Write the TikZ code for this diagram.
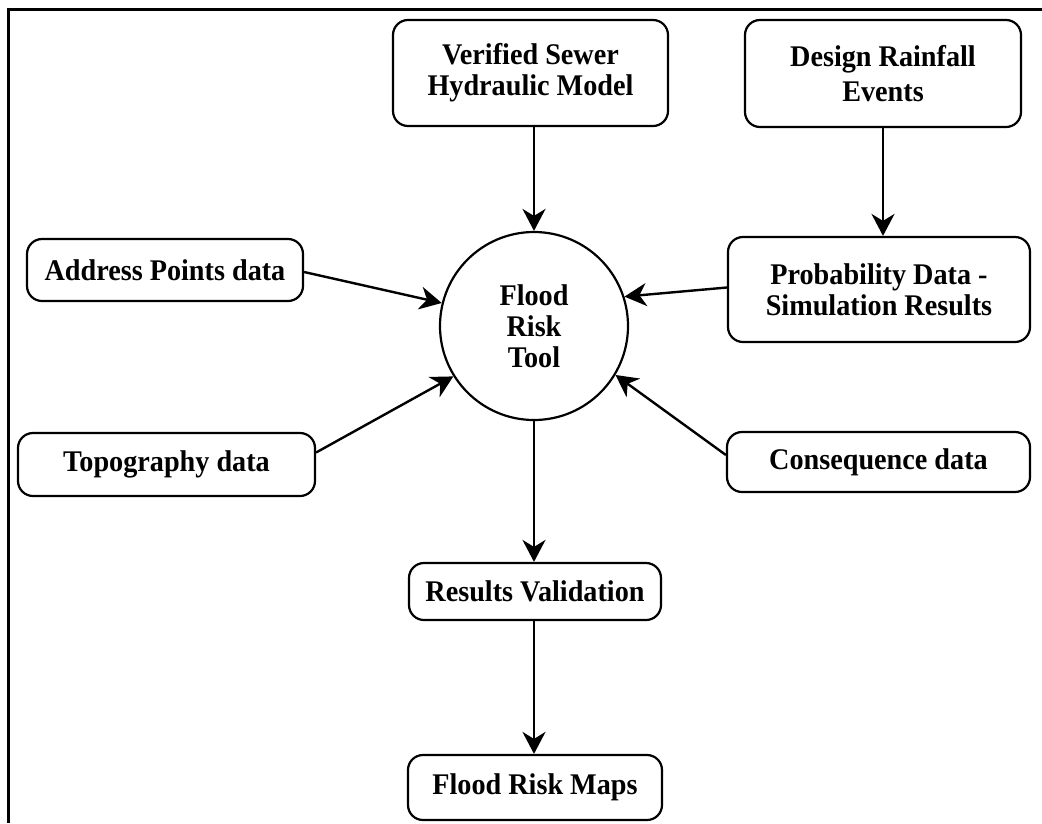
\documentclass[tikz,border=0pt]{standalone}
\usepackage{fontspec}
\setmainfont{Liberation Serif}[FakeStretch=0.94]
\usetikzlibrary{arrows.meta}
\tikzset{
  box/.style={draw, line width=2.2pt, rounded corners=15pt, align=center, inner sep=0pt,
    font=\bfseries\fontsize{30}{31}\selectfont},
  arr/.style={line width=2.4pt, -{Stealth[length=22pt, width=23pt, inset=7pt]}},
  frame/.style={line width=3pt}
}
\begin{document}
\begin{tikzpicture}[x=1pt, y=-1pt]
\useasboundingbox (0,0) rectangle (1042,823);
\draw[frame] (1042,9.5) -- (8.7,9.5) -- (8.7,823);
\node[box, minimum width=275pt, minimum height=106pt] (ver) at (530.5,73) {Verified Sewer\\Hydraulic Model};
\node[box, minimum width=276pt, minimum height=107pt, font=\bfseries\fontsize{30}{35}\selectfont] (des) at (883,73.5) {Design Rainfall\\Events};
\node[box, minimum width=276pt, minimum height=62pt] (addr) at (165,270) {Address Points data};
\node[box, minimum width=302pt, minimum height=105pt] (prob) at (879,289.5) {Probability Data -\\Simulation Results};
\node[box, minimum width=297pt, minimum height=63pt] (topo) at (166.5,464.5) {Topography data};
\node[box, minimum width=303pt, minimum height=60pt] (cons) at (878.5,462) {Consequence data};
\node[box, minimum width=252pt, minimum height=57pt] (resv) at (535,591.5) {Results Validation};
\node[box, minimum width=254pt, minimum height=65pt] (maps) at (535,787.5) {Flood Risk Maps};
\node[box, circle, rounded corners=0pt, minimum size=188pt] (circ) at (534,326) {Flood\\Risk\\Tool};
\draw[arr] (ver.south -| circ.north) -- (circ.north);
\draw[arr] (des.south -| 883,0) -- (prob.north -| 883,0);
\draw[arr] ([yshift=-2pt]addr.east) -- (circ.166);
\draw[arr] ([yshift=2pt]prob.west) -- (circ.18);
\draw[arr] ([yshift=12pt]topo.east) -- (circ.212);
\draw[arr] ([yshift=7pt]cons.west) -- (circ.-31);
\draw[arr] (circ.south) -- (resv.north -| circ.south);
\draw[arr] (resv.south -| circ.south) -- (maps.north -| circ.south);
\end{tikzpicture}
\end{document}
